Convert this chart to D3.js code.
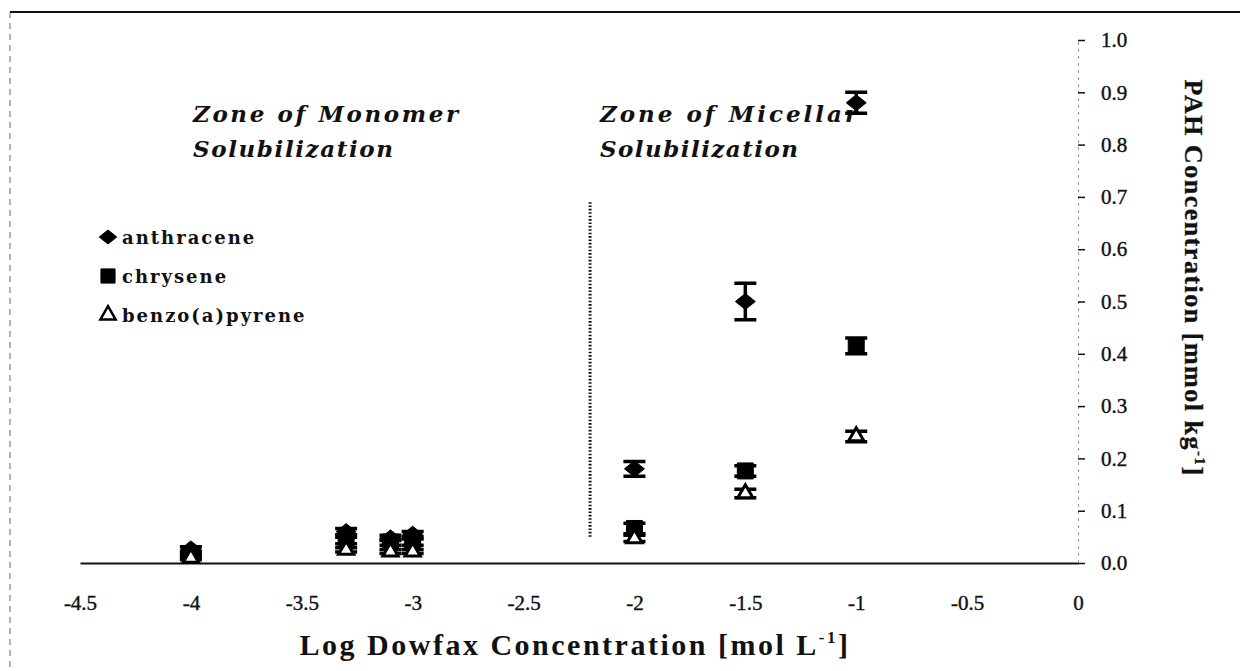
<!DOCTYPE html>
<html>
<head>
<meta charset="utf-8">
<script src="https://cdn.jsdelivr.net/npm/d3@7"></script>
<style>
  body { margin: 0; background: #fff; }
  svg { display: block; font-family: "Liberation Serif", "Times New Roman", serif; }
</style>
</head>
<body>
<div id="chart"></div>
<script>
// log Dowfax concentration (x) and PAH concentrations (y)
var logDowfax = [-4, -3.3, -3.1, -3.0, -2, -1.5, -1];
var anthracene = [0.027, 0.06, 0.048, 0.055, 0.18, 0.50, 0.88];
var anthraceneErr = [0.004, 0.006, 0.005, 0.005, 0.014, 0.035, 0.02];
var chrysene = [0.015, 0.043, 0.04, 0.04, 0.066, 0.176, 0.415];
var chryseneErr = [0.004, 0.006, 0.006, 0.006, 0.01, 0.01, 0.015];
var benzopyrene = [0.01, 0.025, 0.022, 0.022, 0.047, 0.133, 0.242];
var benzopyreneErr = [0.004, 0.004, 0.004, 0.004, 0.006, 0.008, 0.01];
var cmcLine = [[-2.2, 0.05], [-2.2, 0.69]];
var xTicks = [-4.5, -4, -3.5, -3, -2.5, -2, -1.5, -1, -0.5, 0];
var yTicks = [0, 0.1, 0.2, 0.3, 0.4, 0.5, 0.6, 0.7, 0.8, 0.9, 1.0];
var legendNames = ["anthracene", "chrysene", "benzo(a)pyrene"];

var width = 1240, height = 671;

var x = d3.scaleLinear().domain([-4.5, 0]).range([80, 1078]);
var y = d3.scaleLinear().domain([0, 1]).range([563, 40]);

// squat diamond like the excel marker (wider than tall)
var flatDiamond = {
  draw: function(ctx, size) {
    var w = Math.sqrt(size) * 0.62, h = w * 0.8;
    ctx.moveTo(0, -h);
    ctx.lineTo(w, 0);
    ctx.lineTo(0, h);
    ctx.lineTo(-w, 0);
    ctx.closePath();
  }
};

var svg = d3.select("#chart").append("svg")
  .attr("width", width)
  .attr("height", height);

// scanned frame: top rule and faint left edge
svg.append("line")
  .attr("x1", 10).attr("x2", width).attr("y1", 12).attr("y2", 12)
  .attr("stroke", "#111").attr("stroke-width", 2);
svg.append("line")
  .attr("x1", 10).attr("x2", 10).attr("y1", 12).attr("y2", height)
  .attr("stroke", "#666").attr("stroke-width", 1)
  .attr("stroke-dasharray", "6 5");

// x axis (plain hyphen minus, as in the original)
var xAxis = svg.append("g")
  .attr("transform", "translate(0," + y(0) + ")")
  .call(d3.axisBottom(x).tickValues(xTicks).tickSize(0).tickPadding(32)
    .tickFormat(function(d) { return String(d); }));
xAxis.select(".domain").attr("stroke", "#111").attr("stroke-width", 2);
xAxis.selectAll("text")
  .attr("font-size", 21)
  .attr("font-family", "Liberation Serif, serif")
  .attr("fill", "#111")
  .attr("stroke", "#111").attr("stroke-width", 0.4);

// y axis on the right
var yAxis = svg.append("g")
  .attr("transform", "translate(" + x(0) + ",0)")
  .call(d3.axisRight(y).tickValues(yTicks).tickSize(7).tickPadding(16)
    .tickFormat(d3.format(".1f")));
yAxis.select(".domain")
  .attr("stroke", "#999").attr("stroke-width", 1)
  .attr("stroke-dasharray", "3 4");
yAxis.selectAll(".tick line").attr("stroke", "#111").attr("stroke-width", 1.5);
yAxis.selectAll("text")
  .attr("font-size", 21)
  .attr("font-family", "Liberation Serif, serif")
  .attr("fill", "#111")
  .attr("stroke", "#111").attr("stroke-width", 0.4);

// axis titles
var xt = svg.append("text")
  .attr("x", 575).attr("y", 655)
  .attr("text-anchor", "middle")
  .attr("font-size", 30).attr("font-weight", "bold")
  .attr("letter-spacing", 2.5)
  .attr("fill", "#111");
xt.append("tspan").text("Log Dowfax Concentration [mol L");
xt.append("tspan").attr("font-size", 17).attr("dy", -12).text("-1");
xt.append("tspan").attr("dy", 12).text("]");

var yt = svg.append("text")
  .attr("transform", "translate(1185,278) rotate(90)")
  .attr("text-anchor", "middle")
  .attr("font-size", 26).attr("font-weight", "bold")
  .attr("letter-spacing", 1.5)
  .attr("fill", "#111")
  .attr("stroke", "#111").attr("stroke-width", 0.3);
yt.append("tspan").text("PAH Concentration [mmol kg");
yt.append("tspan").attr("font-size", 15).attr("dy", -10).text("-1");
yt.append("tspan").attr("dy", 10).text("]");

// zone annotations
var zoneLabels = [
  { x0: 193, lines: ["Zone of Monomer", "Solubilization"], widths: [265, 200] },
  { x0: 600, lines: ["Zone of Micellar", "Solubilization"], widths: [257, 198] }
];
zoneLabels.forEach(function(z) {
  z.lines.forEach(function(s, i) {
    svg.append("text")
      .attr("x", z.x0).attr("y", 122 + i * 35)
      .attr("font-family", "DejaVu Serif, serif")
      .attr("font-size", 23).attr("font-weight", "bold").attr("font-style", "italic")
      .attr("textLength", z.widths[i]).attr("lengthAdjust", "spacing")
      .attr("fill", "#111")
      .text(s);
  });
});

// dotted divider between zones
svg.append("path")
  .attr("d", d3.line().x(function(d) { return x(d[0]); }).y(function(d) { return y(d[1]); })(cmcLine))
  .attr("stroke", "#111").attr("stroke-width", 3)
  .attr("stroke-dasharray", "1.6 1.8");

// series
var series = [
  { name: "anthracene", vals: anthracene, err: anthraceneErr, shape: flatDiamond, size: 260, fill: "#000" },
  { name: "chrysene", vals: chrysene, err: chryseneErr, shape: d3.symbolSquare, size: 256, fill: "#000" },
  { name: "benzo(a)pyrene", vals: benzopyrene, err: benzopyreneErr, shape: d3.symbolTriangle, size: 100, fill: "#fff" }
];

series.forEach(function(s) {
  var g = svg.append("g");
  var pts = logDowfax.map(function(v, i) { return { x: v, y: s.vals[i], e: s.err[i] }; });

  g.selectAll(".err").data(pts).enter().append("path")
    .attr("d", function(d) {
      var cx = x(d.x), y1 = y(d.y + d.e), y2 = y(d.y - d.e);
      return "M" + (cx - 11) + "," + y1 + "H" + (cx + 11) +
             "M" + cx + "," + y1 + "V" + y2 +
             "M" + (cx - 11) + "," + y2 + "H" + (cx + 11);
    })
    .attr("stroke", "#000").attr("stroke-width", 3.5).attr("fill", "none");

  g.selectAll(".pt").data(pts).enter().append("path")
    .attr("transform", function(d) { return "translate(" + x(d.x) + "," + y(d.y) + ")"; })
    .attr("d", d3.symbol().type(s.shape).size(s.size))
    .attr("fill", s.fill)
    .attr("stroke", "#000").attr("stroke-width", s.fill === "#fff" ? 3 : 1);
});

// legend
var legend = svg.append("g").attr("transform", "translate(108,237)");
legendNames.forEach(function(name, i) {
  var s = series[i];
  var row = legend.append("g").attr("transform", "translate(0," + (i * 39) + ")");
  row.append("path")
    .attr("d", d3.symbol().type(s.shape).size(s.shape === d3.symbolTriangle ? 100 : 200))
    .attr("fill", s.fill)
    .attr("stroke", "#000").attr("stroke-width", s.fill === "#fff" ? 2.5 : 1);
  row.append("text")
    .attr("x", 14).attr("y", 7)
    .attr("font-family", "DejaVu Serif, serif")
    .attr("font-size", 18).attr("font-weight", "bold")
    .attr("letter-spacing", 2)
    .attr("fill", "#111")
    .text(name);
});
</script>
</body>
</html>
